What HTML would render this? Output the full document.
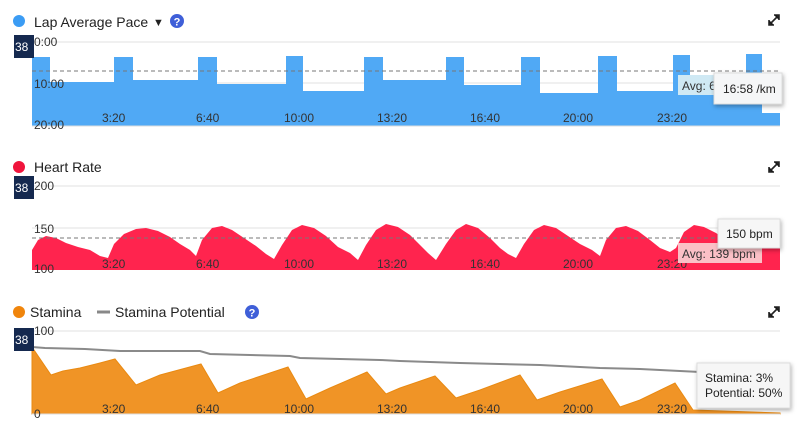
<!DOCTYPE html>
<html><head><style>
body{margin:0;background:#fff;width:804px;height:442px;overflow:hidden;font-family:"Liberation Sans",sans-serif}
svg{position:absolute;left:0;top:0}
</style></head><body>
<svg width="804" height="442" viewBox="0 0 804 442" font-family="Liberation Sans, sans-serif">
<!-- Chart 1 -->
<circle cx="19" cy="21" r="6" fill="#3b9cf4"/>
<text x="34" y="27" font-size="14" fill="#222">Lap Average Pace</text>
<text x="153" y="26" font-size="11" fill="#222">▼</text>
<circle cx="177" cy="21" r="7" fill="#3f5fd8"/><text x="177" y="25.5" font-size="11" font-weight="bold" fill="#fff" text-anchor="middle">?</text>
<g stroke="#222" stroke-width="1.6"><path d="M769 25L779 15M774 15H779V20M769 20V25H774"/></g>
<line x1="32" y1="42" x2="780" y2="42" stroke="#e2e2e2"/>
<line x1="32" y1="83" x2="780" y2="83" stroke="#e2e2e2"/>
<path fill="#50a9f5" d="M32 126V57H50V82H114V57H133V80H198V57H217V84H286V56H303V91H364V57H383V80H446V57H464V85H521V57H540V93H598V56H617V91H673V55H690V90H746V54H762V113H780V126Z"/>
<line x1="32" y1="126" x2="780" y2="126" stroke="#ddd"/>
<line x1="32" y1="71" x2="780" y2="71" stroke="#777" stroke-dasharray="4,3"/>
<g font-size="12" fill="#333"><text x="34" y="46">0:00</text><text x="34" y="88">10:00</text><text x="34" y="129">20:00</text>
<text x="102" y="122">3:20</text><text x="196" y="122">6:40</text><text x="284" y="122">10:00</text><text x="377" y="122">13:20</text><text x="470" y="122">16:40</text><text x="563" y="122">20:00</text><text x="657" y="122">23:20</text></g>
<rect x="678" y="75" width="40" height="20" fill="#cfe9f4"/><text x="682" y="90" font-size="12" fill="#333">Avg: 6</text>
<rect x="714" y="73" width="68" height="31" fill="#f5f6f7" stroke="#ddd" style="filter:drop-shadow(1px 2px 2px rgba(0,0,0,.3))"/><text x="723" y="93" font-size="12" fill="#222">16:58 /km</text>
<rect x="14" y="35" width="20" height="23" fill="#15294f"/><text x="15" y="51" font-size="12" fill="#fff">38</text>

<!-- Chart 2 -->
<circle cx="19" cy="167" r="6" fill="#f0143c"/>
<text x="34" y="172" font-size="14" fill="#222">Heart Rate</text>
<g stroke="#222" stroke-width="1.6"><path d="M769 172L779 162M774 162H779V167M769 167V172H774"/></g>
<line x1="32" y1="186" x2="780" y2="186" stroke="#e2e2e2"/>
<line x1="32" y1="228" x2="780" y2="228" stroke="#e2e2e2"/>
<path fill="#ff244e" d="M32 270V250L38 240L46 236L56 238L66 243L78 247L90 250L100 256L108 258L114 244L124 234L136 229L146 228L158 231L170 237L180 244L190 250L196 256L202 240L212 228L222 226L232 230L244 238L256 246L266 254L274 259L282 245L292 230L302 225L314 228L326 236L338 247L350 253L358 260L366 245L376 230L386 224L398 227L410 235L420 245L428 253L436 260L446 244L456 230L466 224L478 228L490 238L500 248L508 254L516 258L524 244L534 230L544 225L556 228L568 236L580 244L592 250L600 256L606 240L616 228L626 226L638 231L650 240L660 248L670 252L676 248L684 232L694 225L704 227L716 233L726 240L736 248L744 253L752 236L762 222L770 219L780 225V270Z"/>
<line x1="32" y1="238" x2="780" y2="238" stroke="#777" stroke-dasharray="4,3"/>
<g font-size="12" fill="#333"><text x="34" y="190">200</text><text x="34" y="233">150</text><text x="34" y="273">100</text>
<text x="102" y="268">3:20</text><text x="196" y="268">6:40</text><text x="284" y="268">10:00</text><text x="377" y="268">13:20</text><text x="470" y="268">16:40</text><text x="563" y="268">20:00</text><text x="657" y="268">23:20</text></g>
<rect x="678" y="243" width="84" height="20" fill="#fbc0c6"/><text x="682" y="258" font-size="12" fill="#333">Avg: 139 bpm</text>
<rect x="718" y="219" width="62" height="29" fill="#f6f6f6" stroke="#ddd" style="filter:drop-shadow(1px 2px 2px rgba(0,0,0,.3))"/><text x="726" y="238" font-size="12" fill="#222">150 bpm</text>
<rect x="14" y="176" width="20" height="23" fill="#15294f"/><text x="15" y="192" font-size="12" fill="#fff">38</text>

<!-- Chart 3 -->
<circle cx="19" cy="312" r="6" fill="#f0850c"/>
<text x="30" y="317" font-size="14" fill="#222">Stamina</text>
<line x1="97" y1="312" x2="110" y2="312" stroke="#888" stroke-width="3"/>
<text x="115" y="317" font-size="14" fill="#222">Stamina Potential</text>
<circle cx="252" cy="312" r="7" fill="#3f5fd8"/><text x="252" y="316.5" font-size="11" font-weight="bold" fill="#fff" text-anchor="middle">?</text>
<g stroke="#222" stroke-width="1.6"><path d="M769 317L779 307M774 307H779V312M769 312V317H774"/></g>
<line x1="32" y1="331" x2="780" y2="331" stroke="#e2e2e2"/>
<path fill="#f09426" stroke="#e98a12" d="M32 414V347L51 375L63 371L80 368L100 363L115 359L136 385L160 375L201 364L218 393L240 383L288 367L306 399L330 388L367 372L386 394L400 388L435 376L456 398L480 390L520 375L537 400L560 392L602 379L620 407L640 400L675 383L693 410L780 413V414Z"/>
<path fill="none" stroke="#8a8a8a" stroke-width="2" d="M32 347L45 348L85 349L120 351L200 351L210 354L290 356L300 358L380 360L400 361L460 363L540 365L600 368L640 369L700 372L780 375"/>
<line x1="32" y1="414" x2="780" y2="414" stroke="#ddd"/>
<g font-size="12" fill="#333"><text x="34" y="335">100</text><text x="34" y="418">0</text>
<text x="102" y="413">3:20</text><text x="196" y="413">6:40</text><text x="284" y="413">10:00</text><text x="377" y="413">13:20</text><text x="470" y="413">16:40</text><text x="563" y="413">20:00</text><text x="657" y="413">23:20</text></g>
<rect x="697" y="363" width="93" height="45" fill="#f6f6f6" stroke="#ddd" style="filter:drop-shadow(1px 2px 2px rgba(0,0,0,.3))"/>
<text x="705" y="382" font-size="12" fill="#222">Stamina: 3%</text><text x="705" y="397" font-size="12" fill="#222">Potential: 50%</text>
<rect x="14" y="328" width="20" height="23" fill="#15294f"/><text x="15" y="344" font-size="12" fill="#fff">38</text>
</svg>
</body></html>
